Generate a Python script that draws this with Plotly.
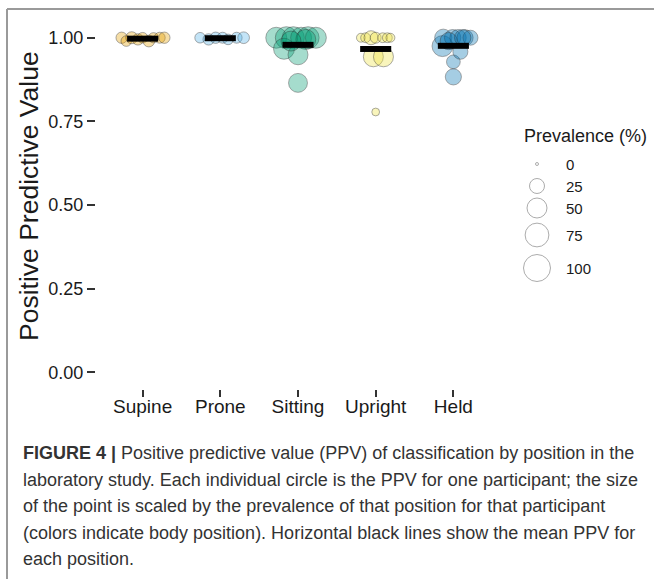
import numpy as np
import plotly.graph_objects as go

W, H = 655, 579

categories = ["Supine", "Prone", "Sitting", "Upright", "Held"]
colors = ["#E69F00", "#56B4E9", "#009E73", "#F0E442", "#0072B2"]

# PPV per participant, prevalence (%) per participant, horizontal jitter (category units)
supine_ppv = [1.0, 0.99, 1.0, 0.995, 1.0, 0.99, 1.0, 1.0, 1.0]
supine_prev = [12, 10, 14, 12, 10, 13, 9, 11, 12]
supine_jit = [-0.27, -0.21, -0.14, -0.06, 0.0, 0.08, 0.14, 0.22, 0.28]

prone_ppv = [1.0, 0.995, 1.0, 1.0, 0.995, 1.0, 1.0]
prone_prev = [10, 12, 12, 11, 10, 11, 13]
prone_jit = [-0.26, -0.15, -0.06, 0.03, 0.10, 0.21, 0.30]

sitting_ppv = [1.0, 1.0, 1.0, 1.0, 1.0, 1.0, 0.995, 0.967, 0.949, 0.865, 0.99]
sitting_prev = [56, 63, 63, 56, 63, 56, 50, 56, 50, 44, 50]
sitting_jit = [-0.28, -0.15, -0.06, 0.04, 0.13, 0.23, 0.10, -0.18, 0.0, 0.0, -0.09]

upright_ppv = [1.0, 1.0, 1.0, 1.0, 1.0, 1.0, 1.0, 0.943, 0.943, 0.778]
upright_prev = [6, 8, 21, 11, 8, 8, 6, 50, 50, 4]
upright_jit = [-0.19, -0.13, -0.06, 0.0, 0.09, 0.15, 0.19, -0.03, 0.10, 0.0]

held_ppv = [0.975, 1.0, 1.0, 1.0, 1.0, 1.0, 0.928, 0.883, 0.958, 0.99, 1.0]
held_prev = [56, 35, 31, 31, 30, 25, 20, 30, 25, 35, 31]
held_jit = [-0.14, -0.13, -0.01, 0.06, 0.15, 0.22, 0.0, 0.0, 0.09, -0.06, 0.12]

legend_prev = [0, 25, 50, 75, 100]

groups = [
    (supine_ppv, supine_prev, supine_jit),
    (prone_ppv, prone_prev, prone_jit),
    (sitting_ppv, sitting_prev, sitting_jit),
    (upright_ppv, upright_prev, upright_jit),
    (held_ppv, held_prev, held_jit),
]


def size_px(p):
    return 3 + 24 * np.sqrt(np.asarray(p, dtype=float) / 100.0)


def hex_rgba(h, a):
    h = h.lstrip("#")
    return "rgba(%d,%d,%d,%s)" % (int(h[0:2], 16), int(h[2:4], 16), int(h[4:6], 16), a)


FONT = "Liberation Sans, Arial, Helvetica, sans-serif"

fig = go.Figure()

for i, (ppv, prev, jit) in enumerate(groups):
    x = (i + 1) + np.asarray(jit)
    fig.add_trace(go.Scatter(
        x=x, y=ppv, mode="markers",
        marker=dict(size=size_px(prev), color=hex_rgba(colors[i], 0.5),
                    line=dict(color="rgba(40,40,40,0.55)", width=1)),
        showlegend=False, hoverinfo="skip"))

for i, (ppv, prev, jit) in enumerate(groups):
    m = float(np.mean(ppv))
    fig.add_trace(go.Scatter(
        x=[i + 1 - 0.2, i + 1 + 0.2], y=[m, m], mode="lines",
        line=dict(color="black", width=6), showlegend=False, hoverinfo="skip"))

# size legend on its own axes
leg_y = [164, 186, 208, 235, 268]
fig.add_trace(go.Scatter(
    x=[0.5] * len(legend_prev), y=leg_y, mode="markers",
    marker=dict(size=size_px(legend_prev), color="white",
                line=dict(color="#8a8a8a", width=1)),
    xaxis="x2", yaxis="y2", showlegend=False, hoverinfo="skip"))

annotations = []
for v, yy in zip(legend_prev, leg_y):
    annotations.append(dict(x=564 / W, xref="paper", y=yy, yref="y2", text=str(v),
                            showarrow=False, xanchor="left", yanchor="middle",
                            font=dict(family=FONT, size=15, color="#1a1a1a")))
annotations.append(dict(x=522 / W, xref="paper", y=(H - 136) / H, yref="paper",
                        text="Prevalence (%)", showarrow=False, xanchor="left",
                        yanchor="middle", font=dict(family=FONT, size=18, color="#1a1a1a")))
annotations.append(dict(x=29 / W, xref="paper", y=(H - 196) / H, yref="paper",
                        text="Positive Predictive Value", textangle=-90, showarrow=False,
                        xanchor="center", yanchor="middle",
                        font=dict(family=FONT, size=26.5, color="#1a1a1a")))

caption = [
    "<b>FIGURE 4 |</b> Positive predictive value (PPV) of classification by position in the",
    "laboratory study. Each individual circle is the PPV for one participant; the size",
    "of the point is scaled by the prevalence of that position for that participant",
    "(colors indicate body position). Horizontal black lines show the mean PPV for",
    "each position.",
]
cap_y = [453, 480, 506, 533, 559]
for t, yy in zip(caption, cap_y):
    annotations.append(dict(x=21 / W, xref="paper", y=(H - yy) / H, yref="paper",
                            text=t, showarrow=False, xanchor="left", yanchor="middle",
                            font=dict(family=FONT, size=18, color="#333333")))

shapes = [
    dict(type="line", xref="paper", yref="paper", x0=7 / W, x1=654 / W,
         y0=(H - 9) / H, y1=(H - 9) / H, line=dict(color="#9a9a9a", width=2)),
    dict(type="line", xref="paper", yref="paper", x0=7 / W, x1=7 / W,
         y0=(H - 9) / H, y1=0, line=dict(color="#9a9a9a", width=2)),
]

fig.update_layout(
    width=W, height=H,
    margin=dict(l=0, r=0, t=0, b=0),
    paper_bgcolor="white", plot_bgcolor="white",
    font=dict(family=FONT, color="#1a1a1a"),
    xaxis=dict(domain=[96 / W, 500 / W], range=[0.4, 5.6],
               tickvals=[1, 2, 3, 4, 5], ticktext=categories,
               ticks="outside", ticklen=7, tickwidth=2, tickcolor="#333333",
               ticklabelstandoff=-7,
               showgrid=False, zeroline=False, showline=False,
               tickfont=dict(family=FONT, size=19, color="#1a1a1a")),
    yaxis=dict(domain=[(H - 389) / H, (H - 21) / H], range=[-0.05, 1.05],
               tickvals=[0, 0.25, 0.5, 0.75, 1.0],
               ticktext=["0.00", "0.25", "0.50", "0.75", "1.00"],
               ticks="outside", ticklen=8, tickwidth=2, tickcolor="#333333",
               showgrid=False, zeroline=False, showline=False,
               tickfont=dict(family=FONT, size=18, color="#1a1a1a")),
    xaxis2=dict(domain=[517 / W, 557 / W], range=[0, 1], visible=False,
                anchor="y2"),
    yaxis2=dict(domain=[(H - 290) / H, (H - 150) / H], range=[290, 150],
                visible=False, anchor="x2"),
    annotations=annotations,
    shapes=shapes,
)

fig.write_html("out.html", config={"displayModeBar": False},
               post_script="document.body.style.margin='0px';")
